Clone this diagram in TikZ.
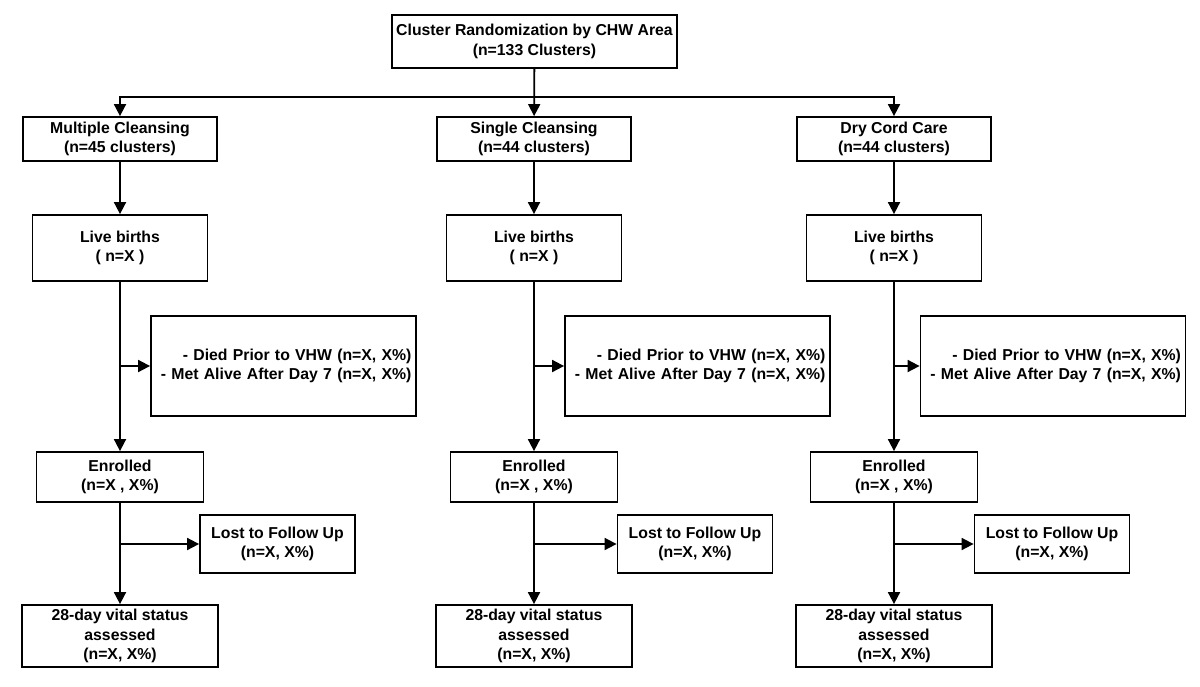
\documentclass[tikz,border=0pt]{standalone}
\usepackage{fontspec}
\setmainfont{Liberation Sans}
\usetikzlibrary{arrows.meta,positioning}

\begin{document}
\begin{tikzpicture}[x=1pt,y=-1pt,font=\bfseries\fontsize{15.8}{19.2}\selectfont]

\tikzstyle{box}=[draw=black,line width=1.8pt,align=center,inner sep=0pt]
\tikzstyle{groupbox}=[box,minimum width=194pt,minimum height=44pt]
\tikzstyle{livebox}=[box,minimum width=175pt,minimum height=66pt]
\tikzstyle{sidebox}=[box,text width=256pt,align=right,minimum width=265pt,minimum height=100pt]
\tikzstyle{enrolbox}=[box,minimum width=167pt,minimum height=50pt]
\tikzstyle{lostbox}=[box,minimum width=155pt,minimum height=58pt]
\tikzstyle{vitalbox}=[box,minimum width=196pt,minimum height=62pt]
\tikzstyle{flow}=[line width=1.8pt,-{Triangle[length=12pt,width=12pt]}]

\useasboundingbox (0,0) rectangle (1200,686);

%randomization
\node [box,minimum width=285pt,minimum height=53pt] (rand) at (534.5,41.5) {Cluster Randomization by CHW Area\\(n=133 Clusters)};
\coordinate (split) at (534,97);

%multiple cleansing
\node [groupbox] (mc) at (120,139) {Multiple Cleansing\\(n=45 clusters)};
\node [livebox] (mcLive) at (120,248) {Live births\\( n=X )};
\node [sidebox] (mcSide) at (283.5,366) {- Died Prior to VHW (n=X, X\%)\\- Met Alive After Day 7 (n=X, X\%)};
\node [enrolbox] (mcEnr) at (120,477) {Enrolled\\(n=X , X\%)};
\node [lostbox] (mcLost) at (277.5,544) {Lost to Follow Up\\(n=X, X\%)};
\node [vitalbox] (mcVital) at (120,636) {28-day vital status\\assessed\\(n=X, X\%)};

%single cleansing
\node [groupbox] (sc) at (534,139) {Single Cleansing\\(n=44 clusters)};
\node [livebox] (scLive) at (534,248) {Live births\\( n=X )};
\node [sidebox] (scSide) at (697.5,366) {- Died Prior to VHW (n=X, X\%)\\- Met Alive After Day 7 (n=X, X\%)};
\node [enrolbox] (scEnr) at (534,477) {Enrolled\\(n=X , X\%)};
\node [lostbox] (scLost) at (695,544) {Lost to Follow Up\\(n=X, X\%)};
\node [vitalbox] (scVital) at (534,636) {28-day vital status\\assessed\\(n=X, X\%)};

%dry cord care
\node [groupbox] (dc) at (894,139) {Dry Cord Care\\(n=44 clusters)};
\node [livebox] (dcLive) at (894,248) {Live births\\( n=X )};
\node [sidebox] (dcSide) at (1053,366) {- Died Prior to VHW (n=X, X\%)\\- Met Alive After Day 7 (n=X, X\%)};
\node [enrolbox] (dcEnr) at (894,477) {Enrolled\\(n=X , X\%)};
\node [lostbox] (dcLost) at (1052,544) {Lost to Follow Up\\(n=X, X\%)};
\node [vitalbox] (dcVital) at (894,636) {28-day vital status\\assessed\\(n=X, X\%)};

\draw [flow] (rand) -- (sc);
\draw [flow] (split) -| (mc);
\draw [flow] (split) -| (dc);

\draw [flow] (mc) -- (mcLive);
\draw [flow] (mcLive) -- (mcEnr);
\draw [flow] (mcLive.south |- mcSide.west) -- (mcSide);
\draw [flow] (mcEnr) -- (mcVital);
\draw [flow] (mcEnr.south |- mcLost.west) -- (mcLost);

\draw [flow] (sc) -- (scLive);
\draw [flow] (scLive) -- (scEnr);
\draw [flow] (scLive.south |- scSide.west) -- (scSide);
\draw [flow] (scEnr) -- (scVital);
\draw [flow] (scEnr.south |- scLost.west) -- (scLost);

\draw [flow] (dc) -- (dcLive);
\draw [flow] (dcLive) -- (dcEnr);
\draw [flow] (dcLive.south |- dcSide.west) -- (dcSide);
\draw [flow] (dcEnr) -- (dcVital);
\draw [flow] (dcEnr.south |- dcLost.west) -- (dcLost);

\end{tikzpicture}
\end{document}
